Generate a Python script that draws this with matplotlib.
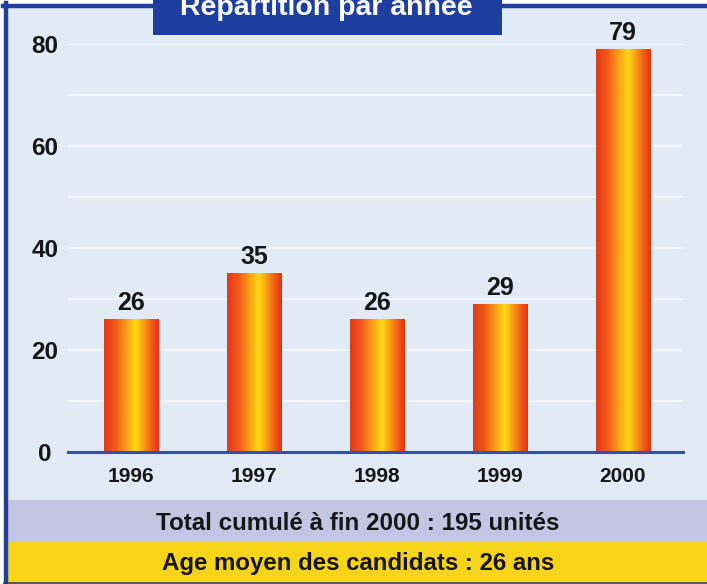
import matplotlib
matplotlib.use('Agg')
import matplotlib.pyplot as plt
from matplotlib import font_manager
from matplotlib.patches import Rectangle
from matplotlib.lines import Line2D
from matplotlib.colors import LinearSegmentedColormap
import numpy as np

# ---- data ----
years = ['1996', '1997', '1998', '1999', '2000']
values = [26, 35, 26, 29, 79]
y_ticks = [0, 20, 40, 60, 80]
grid_levels = [10, 20, 30, 40, 50, 60, 70, 80]
title = 'Répartition par année'
footer_total = 'Total cumulé à fin 2000 : 195 unités'
footer_age = 'Age moyen des candidats : 26 ans'

W, H = 707, 584
fig = plt.figure(figsize=(W / 100, H / 100), dpi=100)
fig.patch.set_facecolor('white')


def fx(px):
    return px / W


def fy(py):
    return 1 - py / H


plt.rcParams['font.family'] = ['Liberation Sans', 'DejaVu Sans']

TXT = '#161616'
BLUE = '#1F3FA0'

# background panel
fig.add_artist(Rectangle((fx(6), fy(582)), fx(707) - fx(6), fy(6) - fy(582),
                         transform=fig.transFigure, facecolor='#E1EAF5',
                         edgecolor='none', zorder=0))
# footer bands
fig.add_artist(Rectangle((fx(6), fy(542)), fx(707) - fx(6), fy(500) - fy(542),
                         transform=fig.transFigure, facecolor='#C5C4E2',
                         edgecolor='none', zorder=0.5))
fig.add_artist(Rectangle((fx(6), fy(582)), fx(707) - fx(6), fy(542) - fy(582),
                         transform=fig.transFigure, facecolor='#F6D419',
                         edgecolor='none', zorder=0.5))
# border lines
fig.add_artist(Line2D([fx(6), fx(6)], [fy(3), fy(582)], transform=fig.transFigure,
                      color=BLUE, lw=3.2, zorder=1))
fig.add_artist(Line2D([fx(3), fx(707)], [fy(6), fy(6)], transform=fig.transFigure,
                      color=BLUE, lw=3.2, zorder=1))
fig.add_artist(Line2D([fx(4), fx(707)], [fy(582.5), fy(582.5)], transform=fig.transFigure,
                      color='#3A3A40', lw=1.2, zorder=1))

# title box
fig.add_artist(Rectangle((fx(153), fy(35)), fx(502) - fx(153), fy(0) - fy(35),
                         transform=fig.transFigure, facecolor=BLUE,
                         edgecolor='none', zorder=2))
fig.text(fx(326), fy(15), title, ha='center', va='baseline', color='white',
         fontsize=20.5, fontweight='bold', zorder=3)

# footer texts
fig.text(fx(358), fy(530), footer_total, ha='center', va='baseline', color=TXT,
         fontsize=17.4, fontweight='bold', zorder=3)
fig.text(fx(358), fy(570), footer_age, ha='center', va='baseline', color=TXT,
         fontsize=17.3, fontweight='bold', zorder=3)

# axes
ax = fig.add_axes([fx(68), fy(452), fx(683) - fx(68), fy(44) - fy(452)])
ax.patch.set_visible(False)
for s in ax.spines.values():
    s.set_visible(False)

xpos = np.arange(len(values))
ax.hlines(grid_levels, -0.6, 4.6, colors='white', lw=1.2, alpha=0.75, zorder=1)

bars = ax.bar(xpos, values, width=0.44, color='none', edgecolor='none', zorder=2)
cmap = LinearSegmentedColormap.from_list('barg', [
    (0.0, '#E4381C'), (0.2, '#F0581A'), (0.42, '#FBA216'), (0.58, '#FFDA14'),
    (0.75, '#F99218'), (0.9, '#EE5219'), (1.0, '#DE3419')])
grad = np.linspace(0, 1, 256).reshape(1, -1)
for b in bars:
    x0, y0, w, h = b.get_x(), b.get_y(), b.get_width(), b.get_height()
    ax.imshow(grad, extent=[x0, x0 + w, y0, y0 + h], aspect='auto', cmap=cmap,
              interpolation='bilinear', zorder=2)

for x, v in zip(xpos, values):
    ax.annotate(str(v), (x, v), xytext=(0, 6.5), textcoords='offset points',
                ha='center', va='baseline', fontsize=18, fontweight='bold', color=TXT)

ax.axhline(0, color='#3550A8', lw=2.2, zorder=3, clip_on=False)

ax.set_xlim(-0.512, 4.488)
ax.set_ylim(0, 80)
ax.set_yticks(y_ticks)
ax.set_yticklabels([str(t) for t in y_ticks], fontsize=17.5, fontweight='bold', color=TXT)
for lab in ax.get_yticklabels():
    lab.set_horizontalalignment('center')
ax.tick_params(axis='y', length=0, pad=16.6)
ax.set_xticks(xpos)
ax.set_xticklabels(years, fontsize=15, fontweight='bold', color=TXT)
ax.tick_params(axis='x', length=0, pad=11)

fig.savefig('out.png', dpi=100)
